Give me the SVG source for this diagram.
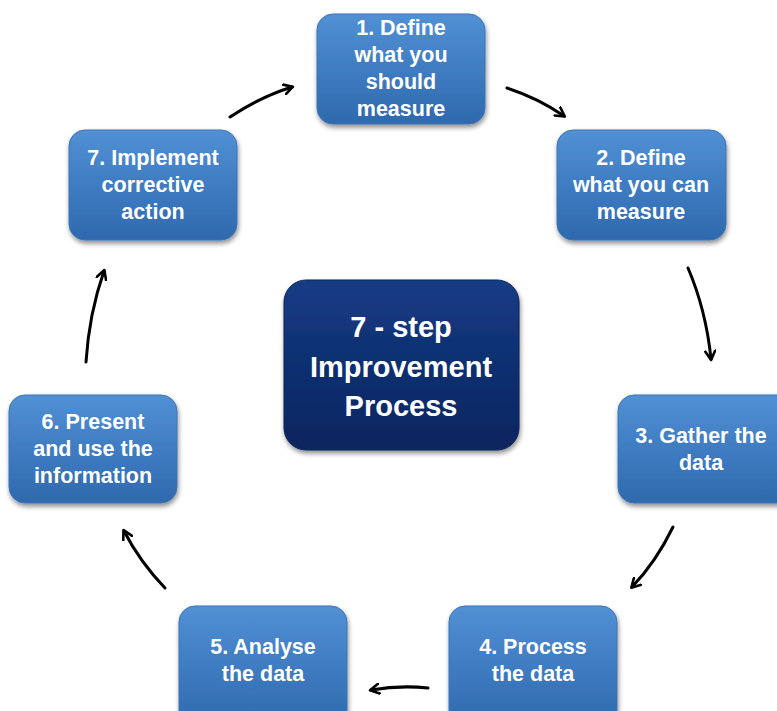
<svg xmlns="http://www.w3.org/2000/svg" width="777" height="711" viewBox="0 0 777 711">
<defs>
<linearGradient id="gb" x1="0" y1="0" x2="0" y2="1">
<stop offset="0" stop-color="#5290d4"/>
<stop offset="0.5" stop-color="#3f7cc2"/>
<stop offset="1" stop-color="#2f69ad"/>
</linearGradient>
<linearGradient id="gc" x1="0" y1="0" x2="0" y2="1">
<stop offset="0" stop-color="#173c85"/>
<stop offset="0.5" stop-color="#0e2f70"/>
<stop offset="1" stop-color="#0a2660"/>
</linearGradient>
<filter id="sh" x="-10%" y="-10%" width="125%" height="130%">
<feGaussianBlur in="SourceAlpha" stdDeviation="2.5"/>
<feOffset dx="1" dy="3" result="b"/>
<feComponentTransfer><feFuncA type="linear" slope="0.45"/></feComponentTransfer>
<feMerge><feMergeNode/><feMergeNode in="SourceGraphic"/></feMerge>
</filter>
<marker id="ah" viewBox="0 0 12 12" refX="9" refY="6" markerWidth="12" markerHeight="12" markerUnits="userSpaceOnUse" orient="auto">
<polyline points="1,1 10,6 1,11" fill="none" stroke="#000" stroke-width="2.6" stroke-linecap="round" stroke-linejoin="round"/>
</marker>
</defs>
<style>
.box{fill:url(#gb);stroke:#3a74b6;stroke-width:1;filter:url(#sh)}
.ctr{fill:url(#gc);stroke:#0a2458;stroke-width:1;filter:url(#sh)}
.t{font-family:"Liberation Sans",Arial,sans-serif;font-weight:bold;font-size:21.5px;fill:#fff;text-anchor:middle}
.tc{font-family:"Liberation Sans",Arial,sans-serif;font-weight:bold;font-size:29px;fill:#fff;text-anchor:middle}
.c{fill:none;stroke:#000;stroke-width:3;stroke-linecap:round;marker-end:url(#ah)}
</style>
<rect width="777" height="711" fill="#fff"/>
<g id="connectors">
<path class="c" d="M507,88 Q538,98 564,116"/>
<path class="c" d="M688,268 Q706,310 711,359"/>
<path class="c" d="M673,527 Q656,562 632,587"/>
<path class="c" d="M428,688 Q400,685 371,690"/>
<path class="c" d="M165,588 Q140,562 124,531"/>
<path class="c" d="M86,362 Q89,314 104,271"/>
<path class="c" d="M230,117 Q260,97 292,87"/>
</g>
<g id="center">
<rect class="ctr" x="284" y="280" width="235" height="170" rx="22"/>
<text class="tc" x="401" y="337">7 - step</text>
<text class="tc" x="401" y="377">Improvement</text>
<text class="tc" x="401" y="416">Process</text>
</g>
<g id="n1">
<rect class="box" x="317" y="14" width="168" height="110" rx="16"/>
<text class="t" x="401" y="35">1. Define</text>
<text class="t" x="401" y="62">what you</text>
<text class="t" x="401" y="89">should</text>
<text class="t" x="401" y="116">measure</text>
</g>
<g id="n2">
<rect class="box" x="557" y="130" width="169" height="110" rx="16"/>
<text class="t" x="641" y="165">2. Define</text>
<text class="t" x="641" y="192">what you can</text>
<text class="t" x="641" y="219">measure</text>
</g>
<g id="n3">
<rect class="box" x="618" y="395" width="175" height="108" rx="16"/>
<text class="t" x="701" y="443">3. Gather the</text>
<text class="t" x="701" y="470">data</text>
</g>
<g id="n4">
<rect class="box" x="449" y="606" width="168" height="120" rx="16"/>
<text class="t" x="533" y="654">4. Process</text>
<text class="t" x="533" y="681">the data</text>
</g>
<g id="n5">
<rect class="box" x="179" y="606" width="168" height="120" rx="16"/>
<text class="t" x="263" y="654">5. Analyse</text>
<text class="t" x="263" y="681">the data</text>
</g>
<g id="n6">
<rect class="box" x="9" y="395" width="168" height="108" rx="16"/>
<text class="t" x="93" y="429">6. Present</text>
<text class="t" x="93" y="456">and use the</text>
<text class="t" x="93" y="483">information</text>
</g>
<g id="n7">
<rect class="box" x="69" y="130" width="168" height="110" rx="16"/>
<text class="t" x="153" y="165">7. Implement</text>
<text class="t" x="153" y="192">corrective</text>
<text class="t" x="153" y="219">action</text>
</g>
</svg>
